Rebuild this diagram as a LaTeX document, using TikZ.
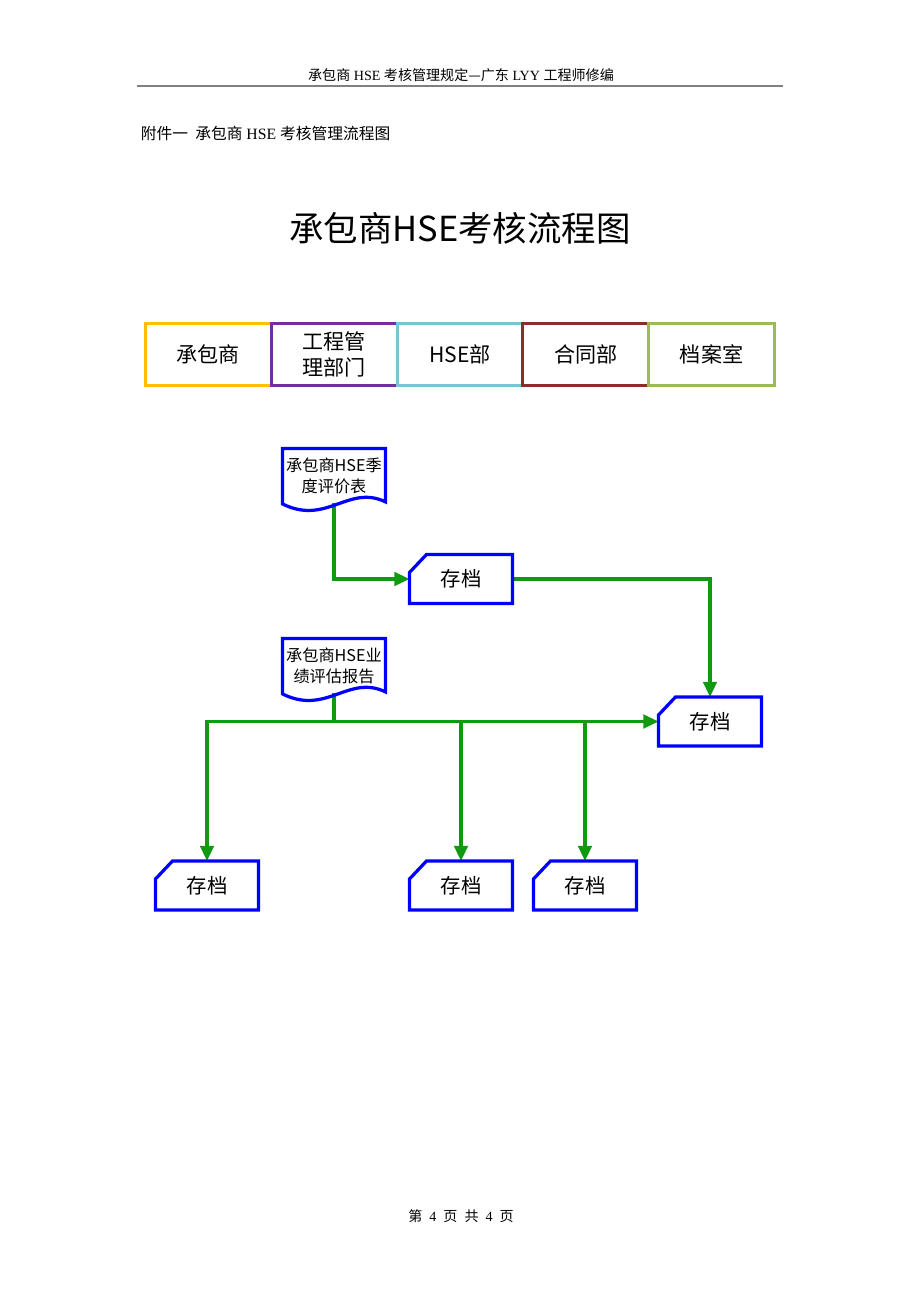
\documentclass[tikz,border=0pt]{standalone}
\usepackage{fontspec}
\setmainfont{Liberation Serif}
\newfontfamily\cjk{Noto Sans CJK SC}
\usetikzlibrary{arrows.meta}

\definecolor{laneorange}{HTML}{FFC000}
\definecolor{lanepurple}{HTML}{7030A0}
\definecolor{laneblue}{HTML}{78C5D6}
\definecolor{lanered}{HTML}{8B2E2B}
\definecolor{lanegreen}{HTML}{9BBB59}
\definecolor{flowgreen}{HTML}{109A10}
\definecolor{boxblue}{HTML}{0000FF}

\begin{document}
\begin{tikzpicture}[x=0.025cm, y=-0.025cm]
\tikzstyle{lane} = [draw, line width=2.1pt, minimum width=3.145cm, minimum height=1.55cm, inner sep=0pt, align=center, font=\cjk\fontsize{15pt}{18pt}\selectfont]
\tikzstyle{store} = [inner sep=0pt, outer sep=0pt, minimum width=2.575cm, minimum height=1.225cm, font=\cjk\fontsize{14.5pt}{17pt}\selectfont]
\tikzstyle{doc} = [inner sep=0pt, outer sep=0pt, minimum width=2.575cm, minimum height=1.36cm, align=center, font=\cjk\fontsize{11.5pt}{15pt}\selectfont]
\tikzstyle{outline} = [draw=boxblue, line width=2.3pt, line join=miter]
\tikzstyle{flow} = [draw=flowgreen, line width=2.2pt, -{Triangle[length=0.38cm, width=0.34cm]}]

\fill[white] (0,0) rectangle (920,1302);
\useasboundingbox (0,0) rectangle (920,1302);

% page header
\node (header) at (461,75) {\fontsize{10pt}{12pt}\selectfont{\cjk 承包商} HSE {\cjk 考核管理规定—广东} LYY {\cjk 工程师修编}};
\draw[gray, line width=1.2pt] (137,86) -- (783,86);
\node[anchor=west] (annex) at (136,133) {\fontsize{11.2pt}{13pt}\selectfont{\cjk 附件一\ \ 承包商} HSE {\cjk 考核管理流程图}};
\node (title) at (460,228) {\cjk\fontsize{24.5pt}{28pt}\selectfont 承包商HSE考核流程图};

% lanes
\node[lane, draw=laneorange] (contractor) at (208.4,354.5) {承包商};
\node[lane, draw=lanepurple] (engineering) at (334.2,354.5) {工程管\\理部门};
\node[lane, draw=laneblue] (hse) at (460,354.5) {HSE部};
\node[lane, draw=lanered] (contract) at (585.8,354.5) {合同部};
\node[lane, draw=lanegreen] (archive) at (711.6,354.5) {档案室};

% documents
\node[doc] (d1) at (334,475.7) {承包商HSE季\\度评价表};
\node[doc] (d2) at (334,665.7) {承包商HSE业\\绩评估报告};

% archive boxes
\node[store] (s1) at (461,579) {存档};
\node[store] (s4) at (710,721.5) {存档};
\node[store] (s5) at (207,885.5) {存档};
\node[store] (s6) at (461,885.5) {存档};
\node[store] (s7) at (585,885.5) {存档};

% connectors
\draw[flow] (d1.south) |- (s1.west);
\draw[flow] (s1.east) -| (s4.north);
\draw[flow, -] (d2.south) -- (d2.south |- s4.west);
\draw[flow, {Triangle[length=0.38cm, width=0.34cm]}-{Triangle[length=0.38cm, width=0.34cm]}] (s5.north) |- (s4.west);
\draw[flow] (s6.north |- s4.west) -- (s6.north);
\draw[flow] (s7.north |- s4.west) -- (s7.north);

% outlines
\foreach \n in {d1,d2}
  \draw[outline] (\n.south west) -- (\n.north west) -- (\n.north east) -- ([yshift=0.025cm]\n.south east)
    .. controls +(-0.925cm,0.45cm) and +(1.1cm,-0.55cm) .. ([yshift=-0.025cm]\n.south west) -- cycle;
\foreach \n in {s1,s4,s5,s6,s7}
  \draw[outline] ([yshift=-0.45cm]\n.north west) -- ([xshift=0.425cm]\n.north west) -- (\n.north east) -- (\n.south east) -- (\n.south west) -- cycle;

% page footer
\node (footer) at (461,1216) {\fontsize{10pt}{12pt}\selectfont{\cjk 第}\ \ 4\ \ {\cjk 页}\ \ {\cjk 共}\ \ 4\ \ {\cjk 页}};
\end{tikzpicture}
\end{document}
